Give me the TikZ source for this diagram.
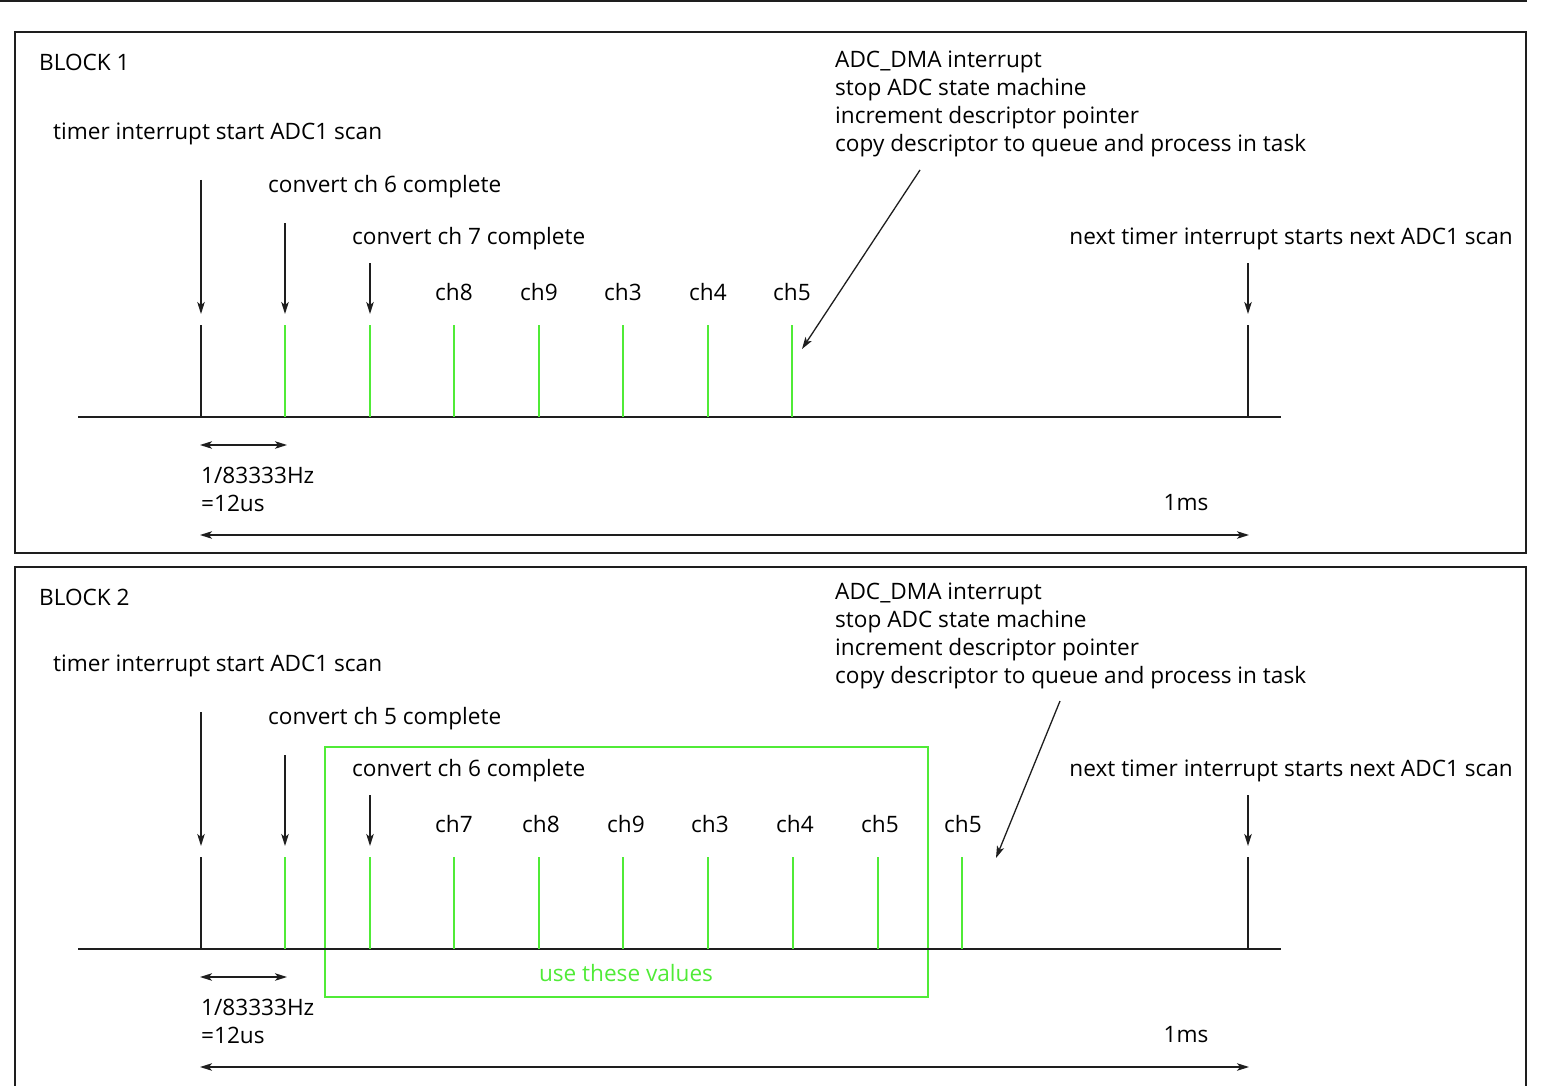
\documentclass[tikz,border=0pt]{standalone}
\usepackage{fontspec}
\setmainfont{Open Sans}
\usetikzlibrary{arrows.meta}
\definecolor{lgreen}{RGB}{80,235,55}
\definecolor{lineblack}{RGB}{30,30,30}
\tikzset{
  txt/.style={inner sep=0pt, font=\fontsize{22.6}{28}\selectfont, text=black},
  gtxt/.style={txt, text=lgreen},
  frame/.style={draw=lineblack, line width=1.6pt},
  axis/.style={draw=lineblack, line width=1.6pt},
  tick/.style={draw=lineblack, line width=1.5pt},
  gtick/.style={draw=lgreen, line width=1.5pt},
  arr/.style={draw=lineblack, line width=1.3pt, -{Stealth[length=12pt,width=7.5pt,inset=3pt]}},
  darr/.style={draw=lineblack, line width=1.3pt, {Stealth[length=12pt,width=7.5pt,inset=3pt]}-{Stealth[length=12pt,width=7.5pt,inset=3pt]}},
  gbox/.style={draw=lgreen, line width=1.5pt},
}
\begin{document}
\begin{tikzpicture}[x=1pt,y=-1pt]
\useasboundingbox (0,0) rectangle (1541,1086);
% top cut line
\draw[frame] (0,0.8) -- (1527,0.8);

% ================= BLOCK 1 =================
\draw[frame] (15,32) rectangle (1526,553);
\node[txt,anchor=west] (b1title) at (39,62) {BLOCK 1};
\node[txt,anchor=west] (b1timer) at (53,134) {timer interrupt start ADC1 scan};
\node[txt,anchor=west] (b1c6) at (268,187) {convert ch 6 complete};
\node[txt,anchor=west] (b1c7) at (352,239) {convert ch 7 complete};
\node[txt] (b1ch8) at (454,292) {ch8};
\node[txt] (b1ch9) at (539,292) {ch9};
\node[txt] (b1ch3) at (623,292) {ch3};
\node[txt] (b1ch4) at (708,292) {ch4};
\node[txt] (b1ch5) at (792,292) {ch5};
\node[txt,anchor=west] (b1d1) at (835,62) {ADC\_DMA interrupt};
\node[txt,anchor=west] (b1d2) at (835,90) {stop ADC state machine};
\node[txt,anchor=west] (b1d3) at (835,118) {increment descriptor pointer};
\node[txt,anchor=west] (b1d4) at (835,146) {copy descriptor to queue and process in task};
\node[txt,anchor=east] (b1next) at (1513,239) {next timer interrupt starts next ADC1 scan};
\node[txt,anchor=west] (b1per) at (201,475) {1/83333Hz};
\node[txt,anchor=west] (b1us) at (201,503) {=12us};
\node[txt] (b1ms) at (1186,503) {1ms};

% axis
\coordinate (b1axL) at (78,417);
\coordinate (b1axR) at (1281,417);
\draw[axis] (b1axL) -- (b1axR);
% ticks
\draw[tick] (201,325) -- (201,417);
\draw[tick] (1248,325) -- (1248,417);
\foreach \x in {285,370,454,539,623,708,792}
  \draw[gtick] (\x,325) -- (\x,417);
% arrows
\coordinate (b1a1s) at (201,180); \coordinate (b1a1e) at (201,314);
\coordinate (b1a2s) at (285,223); \coordinate (b1a2e) at (285,314);
\coordinate (b1a3s) at (370,263); \coordinate (b1a3e) at (370,314);
\coordinate (b1a4s) at (1248,263); \coordinate (b1a4e) at (1248,314);
\coordinate (b1dgs) at (920,170); \coordinate (b1dge) at (802,349);
\draw[arr] (b1a1s) -- (b1a1e);
\draw[arr] (b1a2s) -- (b1a2e);
\draw[arr] (b1a3s) -- (b1a3e);
\draw[arr] (b1a4s) -- (b1a4e);
\draw[arr] (b1dgs) -- (b1dge);
\coordinate (b1p1) at (200,445); \coordinate (b1p2) at (287,445);
\draw[darr] (b1p1) -- (b1p2);
\coordinate (b1m1) at (200,535); \coordinate (b1m2) at (1249,535);
\draw[darr] (b1m1) -- (b1m2);

% ================= BLOCK 2 =================
\draw[frame] (15,1090) -- (15,567) -- (1526,567) -- (1526,1090);
\node[txt,anchor=west] (b2title) at (39,597) {BLOCK 2};
\node[txt,anchor=west] (b2timer) at (53,666) {timer interrupt start ADC1 scan};
\node[txt,anchor=west] (b2c5) at (268,719) {convert ch 5 complete};
\node[txt,anchor=west] (b2c6) at (352,771) {convert ch 6 complete};
\node[txt] (b2ch7) at (454,824) {ch7};
\node[txt] (b2ch8) at (541,824) {ch8};
\node[txt] (b2ch9) at (626,824) {ch9};
\node[txt] (b2ch3) at (710,824) {ch3};
\node[txt] (b2ch4) at (795,824) {ch4};
\node[txt] (b2ch5) at (880,824) {ch5};
\node[txt] (b2ch5b) at (963,824) {ch5};
\node[txt,anchor=west] (b2d1) at (835,594) {ADC\_DMA interrupt};
\node[txt,anchor=west] (b2d2) at (835,622) {stop ADC state machine};
\node[txt,anchor=west] (b2d3) at (835,650) {increment descriptor pointer};
\node[txt,anchor=west] (b2d4) at (835,678) {copy descriptor to queue and process in task};
\node[txt,anchor=east] (b2next) at (1513,771) {next timer interrupt starts next ADC1 scan};
\node[txt,anchor=west] (b2per) at (201,1007) {1/83333Hz};
\node[txt,anchor=west] (b2us) at (201,1035) {=12us};
\node[txt] (b2ms) at (1186,1035) {1ms};
\node[gtxt] (b2use) at (626,973) {use these values};
\draw[gbox] (325,747) rectangle (928,997);

% axis
\coordinate (b2axL) at (78,949);
\coordinate (b2axR) at (1281,949);
\draw[axis] (b2axL) -- (b2axR);
\draw[tick] (201,857) -- (201,949);
\draw[tick] (1248,857) -- (1248,949);
\foreach \x in {285,370,454,539,623,708,793,878,962}
  \draw[gtick] (\x,857) -- (\x,949);
% arrows
\coordinate (b2a1s) at (201,712); \coordinate (b2a1e) at (201,846);
\coordinate (b2a2s) at (285,755); \coordinate (b2a2e) at (285,846);
\coordinate (b2a3s) at (370,795); \coordinate (b2a3e) at (370,846);
\coordinate (b2a4s) at (1248,795); \coordinate (b2a4e) at (1248,846);
\coordinate (b2dgs) at (1060,701); \coordinate (b2dge) at (996,858);
\draw[arr] (b2a1s) -- (b2a1e);
\draw[arr] (b2a2s) -- (b2a2e);
\draw[arr] (b2a3s) -- (b2a3e);
\draw[arr] (b2a4s) -- (b2a4e);
\draw[arr] (b2dgs) -- (b2dge);
\coordinate (b2p1) at (200,977); \coordinate (b2p2) at (287,977);
\draw[darr] (b2p1) -- (b2p2);
\coordinate (b2m1) at (200,1067); \coordinate (b2m2) at (1249,1067);
\draw[darr] (b2m1) -- (b2m2);
\end{tikzpicture}
\end{document}
